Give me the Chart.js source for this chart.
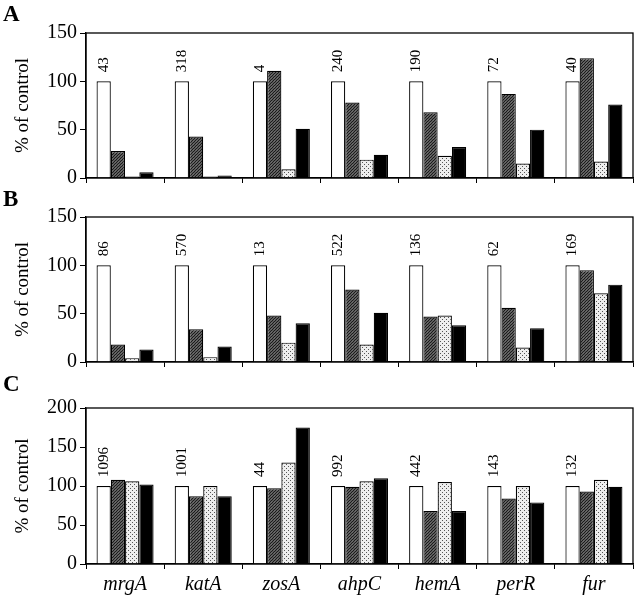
<!DOCTYPE html>
<html>
<head>
<meta charset="utf-8">
<script src="https://cdn.jsdelivr.net/npm/chart.js@4/dist/chart.umd.min.js"></script>
<style>
  html, body { margin: 0; padding: 0; background: #fff; }
  #wrap { position: relative; width: 639px; height: 598px; }
  .panel { position: absolute; left: 0; }
  .letter { position: absolute; left: 3px; font: bold 23px "Liberation Serif", serif; color: #000; }
</style>
</head>
<body>
<div id="wrap">
  <div class="panel" style="top:0px"><canvas id="chartA" width="639" height="190"></canvas></div>
  <div class="panel" style="top:185px"><canvas id="chartB" width="639" height="190"></canvas></div>
  <div class="panel" style="top:370px"><canvas id="chartC" width="639" height="228"></canvas></div>
  <div class="letter" style="top:1px">A</div>
  <div class="letter" style="top:186px">B</div>
  <div class="letter" style="top:371px">C</div>
</div>
<script>
// Genes (categories)
const genes = ['mrgA', 'katA', 'zosA', 'ahpC', 'hemA', 'perR', 'fur'];

// Panel A
const countsA  = [43, 318, 4, 240, 190, 72, 40];
const whiteA   = [100, 100, 100, 100, 100, 100, 100];
const hatchedA = [28, 43, 111, 78, 68, 87, 124];
const dottedA  = [1.5, 1.5, 9, 19, 23, 15, 17];
const blackA   = [6, 2.5, 51, 24, 32, 50, 76];

// Panel B
const countsB  = [86, 570, 13, 522, 136, 62, 169];
const whiteB   = [100, 100, 100, 100, 100, 100, 100];
const hatchedB = [18, 34, 48, 75, 47, 56, 95];
const dottedB  = [4, 5, 20, 18, 48, 15, 71];
const blackB   = [13, 16, 40, 51, 38, 35, 80];

// Panel C
const countsC  = [1096, 1001, 44, 992, 442, 143, 132];
const whiteC   = [100, 100, 100, 100, 100, 100, 100];
const hatchedC = [108, 87, 97, 99, 68, 84, 93];
const dottedC  = [106, 100, 130, 106, 105, 100, 108];
const blackC   = [102, 87, 175, 110, 68, 79, 99];

const serif = '"Liberation Serif", "Times New Roman", serif';

// fill patterns
function makeHatch() {
    const c = document.createElement('canvas');
    c.width = 3; c.height = 3;
    const g = c.getContext('2d');
    g.fillStyle = '#fff';
    g.fillRect(0, 0, 3, 3);
    g.strokeStyle = '#1a1a1a';
    g.lineWidth = 1.6;
    g.beginPath();
    g.moveTo(0, 3); g.lineTo(3, 0);
    g.moveTo(-1, 1); g.lineTo(1, -1);
    g.moveTo(2, 4); g.lineTo(4, 2);
    g.stroke();
    return g.createPattern(c, 'repeat');
}

function makeDots() {
    const c = document.createElement('canvas');
    c.width = 4; c.height = 4;
    const g = c.getContext('2d');
    g.fillStyle = '#eeeeee';
    g.fillRect(0, 0, 4, 4);
    g.fillStyle = '#555';
    g.fillRect(0, 0, 1, 1);
    g.fillRect(2, 2, 1, 1);
    return g.createPattern(c, 'repeat');
}

const hatchFill = makeHatch();
const dotFill = makeDots();

// numbers written vertically above the white bars
const countLabels = {
    id: 'countLabels',
    afterDatasetsDraw(chart, args, opts) {
        const meta = chart.getDatasetMeta(0);
        const ctx = chart.ctx;
        const y = chart.scales.y.getPixelForValue(100) - 9;
        ctx.save();
        ctx.font = '15px ' + serif;
        ctx.fillStyle = '#000';
        ctx.textAlign = 'left';
        ctx.textBaseline = 'middle';
        meta.data.forEach((bar, i) => {
            ctx.save();
            ctx.translate(bar.x, y);
            ctx.rotate(-Math.PI / 2);
            ctx.fillText(String(opts.counts[i]), 0, 0);
            ctx.restore();
        });
        ctx.restore();
    }
};

// box around the plot area
const frame = {
    id: 'frame',
    afterDraw(chart) {
        const a = chart.chartArea;
        const ctx = chart.ctx;
        ctx.save();
        ctx.strokeStyle = '#000';
        ctx.lineWidth = 1.3;
        ctx.strokeRect(a.left, a.top, a.right - a.left, a.bottom - a.top);
        ctx.restore();
    }
};

function buildChart(id, vals, counts, yMax, padTop, xHeight, showLabels) {
    const ds = (data, fill) => ({
        data: data,
        backgroundColor: fill,
        borderColor: '#000',
        borderWidth: 1.2,
        borderSkipped: 'start'
    });
    return new Chart(document.getElementById(id), {
        type: 'bar',
        data: {
            labels: genes,
            datasets: [
                ds(vals[0], '#fff'),
                ds(vals[1], hatchFill),
                ds(vals[2], dotFill),
                ds(vals[3], '#000')
            ]
        },
        options: {
            responsive: false,
            animation: false,
            layout: { padding: { top: padTop, right: 6, left: 0, bottom: 0 } },
            datasets: { bar: { categoryPercentage: 0.73, barPercentage: 1.0 } },
            plugins: {
                legend: { display: false },
                tooltip: { enabled: false },
                countLabels: { counts: counts }
            },
            scales: {
                x: {
                    afterFit(scale) {
                        scale.height = xHeight;
                        scale.paddingLeft = 0;
                        scale.paddingRight = 0;
                    },
                    grid: { drawOnChartArea: false, drawTicks: true, tickLength: 5, color: '#000' },
                    border: { display: true, color: '#000', width: 1.3 },
                    ticks: {
                        display: showLabels,
                        color: '#000',
                        padding: 4,
                        font: { family: serif, size: 20, style: 'italic' }
                    }
                },
                y: {
                    min: 0,
                    max: yMax,
                    afterFit(scale) {
                        scale.width = 86;
                        scale.paddingTop = 0;
                        scale.paddingBottom = 0;
                    },
                    grid: { drawOnChartArea: false, drawTicks: true, tickLength: 6, color: '#000' },
                    border: { display: true, color: '#000', width: 1.3 },
                    ticks: {
                        stepSize: 50,
                        color: '#000',
                        padding: 3,
                        font: { family: serif, size: 20 }
                    },
                    title: {
                        display: true,
                        text: '% of control',
                        color: '#000',
                        padding: { top: 12, bottom: 0 },
                        font: { family: serif, size: 19 }
                    }
                }
            }
        },
        plugins: [countLabels, frame]
    });
}

buildChart('chartA', [whiteA, hatchedA, dottedA, blackA], countsA, 150, 33, 12, false);
buildChart('chartB', [whiteB, hatchedB, dottedB, blackB], countsB, 150, 32, 13, false);
buildChart('chartC', [whiteC, hatchedC, dottedC, blackC], countsC, 200, 38, 34, true);
</script>
</body>
</html>
